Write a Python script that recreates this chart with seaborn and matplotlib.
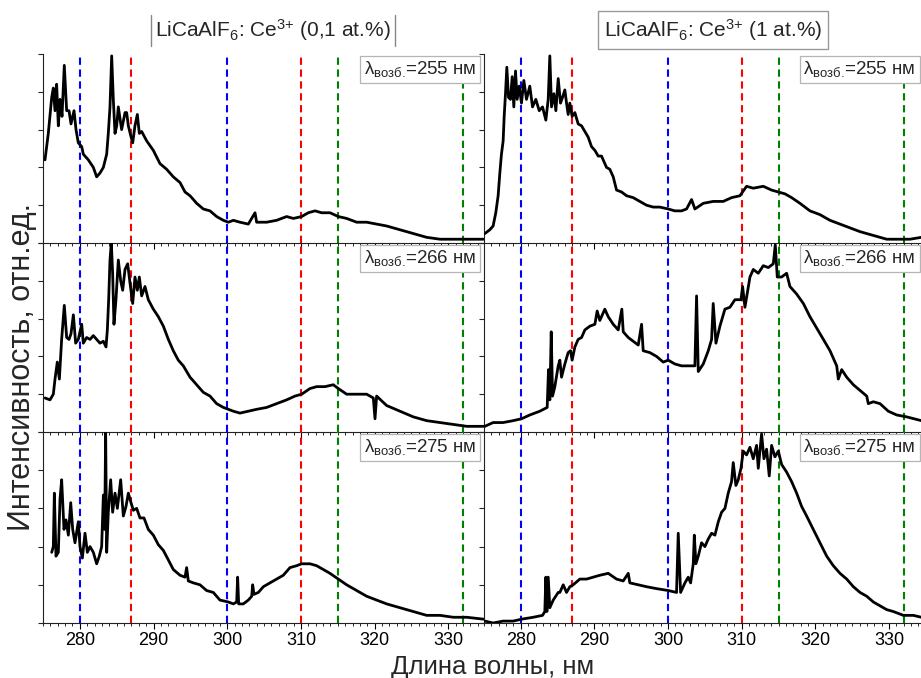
import matplotlib
matplotlib.use("Agg")
import matplotlib.pyplot as plt
from matplotlib.lines import Line2D
from matplotlib.ticker import MultipleLocator
import seaborn as sns

# ---------------- data ----------------
# Reference wavelengths (nm) of the dashed guide lines and their colours
guide_wl = [280, 287, 300, 310, 315, 332]
guide_colors = ["#0000ff", "#ff0000", "#0000ff", "#ff0000", "#008000", "#008000"]

excitation = [255, 266, 275]

# LiCaAlF6:Ce3+ (0.1 at.%), excitation 255 nm
wl_a255 = [275.27, 275.72, 276.18, 276.40, 276.63, 276.85, 277.08, 277.31, 277.58, 277.89,
           278.21, 278.53, 278.80, 279.21, 279.48, 279.79, 280.25, 280.47, 281.15, 281.83,
           282.28, 282.73, 283.19, 283.64, 283.86, 284.09, 284.32, 284.54, 284.77, 285.00,
           285.22, 285.67, 286.13, 286.35, 286.58, 286.89, 287.17, 287.48, 287.80, 288.07,
           288.39, 289.07, 289.97, 290.87, 291.78, 292.68, 293.59, 294.27, 294.95, 295.85,
           296.75, 297.66, 298.56, 299.47, 300.15, 300.83, 301.73, 302.86, 303.77, 303.99,
           305.35, 306.70, 308.06, 308.97, 310.10, 311.00, 311.91, 312.81, 313.94, 315.07,
           316.20, 317.56, 318.92, 320.27, 321.63, 323.44, 325.25, 327.06, 328.87, 330.68,
           332.50, 334.80]
int_a255 = [0.44, 0.58, 0.77, 0.82, 0.70, 0.84, 0.62, 0.76, 0.67, 0.94,
            0.70, 0.70, 0.63, 0.70, 0.60, 0.53, 0.51, 0.47, 0.44, 0.40,
            0.35, 0.37, 0.40, 0.47, 0.58, 0.72, 0.99, 0.76, 0.58, 0.62,
            0.72, 0.60, 0.69, 0.69, 0.62, 0.57, 0.53, 0.62, 0.68, 0.58,
            0.59, 0.54, 0.49, 0.42, 0.39, 0.35, 0.32, 0.27, 0.25, 0.21,
            0.18, 0.17, 0.14, 0.12, 0.11, 0.12, 0.11, 0.10, 0.16, 0.11,
            0.11, 0.12, 0.14, 0.13, 0.14, 0.16, 0.17, 0.16, 0.16, 0.14,
            0.13, 0.11, 0.11, 0.10, 0.09, 0.07, 0.05, 0.03, 0.02, 0.02,
            0.02, 0.02]

# LiCaAlF6:Ce3+ (0.1 at.%), excitation 266 nm
wl_a266 = [275.27, 275.95, 276.40, 276.63, 276.94, 277.22, 277.53, 277.89, 278.21, 278.53,
           278.80, 279.12, 279.43, 279.79, 280.25, 280.47, 280.92, 281.38, 281.83, 282.28,
           282.73, 283.19, 283.55, 283.73, 283.91, 284.09, 284.27, 284.45, 284.63, 284.90,
           285.22, 285.54, 285.81, 286.13, 286.49, 286.80, 287.17, 287.48, 287.80, 288.07,
           288.39, 288.84, 289.29, 289.97, 290.65, 291.33, 292.01, 292.68, 293.36, 294.04,
           294.95, 295.85, 296.75, 297.66, 298.56, 299.47, 300.15, 300.83, 301.73, 302.86,
           303.99, 305.35, 306.70, 308.06, 309.19, 310.10, 311.23, 312.13, 313.26, 314.39,
           315.07, 316.20, 317.56, 318.92, 319.82, 320.05, 320.27, 321.63, 323.44, 325.25,
           327.06, 328.87, 330.68, 332.50, 334.80]
int_a266 = [0.18, 0.17, 0.20, 0.28, 0.37, 0.28, 0.49, 0.67, 0.50, 0.49,
            0.52, 0.62, 0.47, 0.49, 0.57, 0.47, 0.50, 0.49, 0.51, 0.49,
            0.47, 0.48, 0.45, 0.54, 0.70, 0.91, 1.00, 0.84, 0.57, 0.70,
            0.91, 0.80, 0.75, 0.86, 0.89, 0.79, 0.68, 0.82, 0.75, 0.82,
            0.72, 0.77, 0.70, 0.65, 0.61, 0.56, 0.49, 0.43, 0.38, 0.35,
            0.29, 0.25, 0.21, 0.19, 0.15, 0.13, 0.12, 0.11, 0.10, 0.11,
            0.12, 0.13, 0.15, 0.17, 0.19, 0.20, 0.23, 0.24, 0.24, 0.25,
            0.23, 0.20, 0.20, 0.20, 0.18, 0.07, 0.19, 0.14, 0.11, 0.08,
            0.06, 0.05, 0.04, 0.03, 0.03]

# LiCaAlF6:Ce3+ (0.1 at.%), excitation 275 nm
wl_a275 = [276.18, 276.40, 276.54, 276.76, 277.08, 277.31, 277.53, 277.85, 278.12, 278.44,
           278.76, 279.03, 279.34, 279.79, 280.02, 280.34, 280.70, 281.02, 281.38, 281.83,
           282.28, 282.64, 282.96, 283.19, 283.37, 283.50, 283.64, 283.86, 284.18, 284.45,
           284.77, 285.09, 285.54, 285.90, 286.26, 286.58, 286.94, 287.26, 287.71, 288.16,
           288.70, 289.29, 289.97, 290.65, 291.33, 292.01, 292.68, 293.59, 294.27, 294.49,
           294.72, 295.40, 296.30, 297.20, 298.11, 299.01, 300.15, 300.83, 301.28, 301.41,
           301.55, 302.18, 302.86, 303.32, 303.45, 303.63, 304.22, 304.90, 305.80, 306.70,
           307.61, 308.51, 309.42, 310.10, 310.78, 311.23, 312.13, 313.04, 313.94, 315.07,
           316.20, 317.56, 318.92, 320.27, 321.63, 323.44, 325.25, 327.06, 328.87, 330.68,
           332.50, 334.80]
int_a275 = [0.37, 0.40, 0.68, 0.35, 0.37, 0.65, 0.75, 0.49, 0.54, 0.46,
            0.63, 0.49, 0.42, 0.53, 0.40, 0.34, 0.47, 0.37, 0.40, 0.37,
            0.31, 0.35, 0.40, 0.67, 0.49, 1.00, 0.37, 0.58, 0.75, 0.58,
            0.68, 0.60, 0.75, 0.56, 0.61, 0.68, 0.63, 0.59, 0.60, 0.55,
            0.55, 0.49, 0.46, 0.41, 0.38, 0.33, 0.28, 0.25, 0.24, 0.29,
            0.22, 0.21, 0.20, 0.17, 0.16, 0.12, 0.11, 0.10, 0.11, 0.24,
            0.10, 0.10, 0.12, 0.14, 0.20, 0.15, 0.16, 0.19, 0.21, 0.23,
            0.25, 0.29, 0.30, 0.31, 0.31, 0.31, 0.30, 0.28, 0.26, 0.23,
            0.20, 0.17, 0.14, 0.12, 0.10, 0.08, 0.06, 0.04, 0.04, 0.03,
            0.03, 0.02]

# LiCaAlF6:Ce3+ (1 at.%), excitation 255 nm
wl_b255 = [275.11, 275.79, 276.24, 276.60, 276.92, 277.15, 277.37, 277.60, 277.74, 277.92,
           278.10, 278.33, 278.60, 278.83, 279.05, 279.28, 279.50, 279.78, 280.09, 280.41,
           280.77, 281.22, 281.59, 282.04, 282.50, 282.95, 283.40, 283.72, 283.94, 284.17,
           284.49, 284.76, 285.08, 285.39, 285.66, 285.98, 286.21, 286.43, 286.66, 286.97,
           287.34, 287.79, 288.25, 288.70, 289.15, 289.60, 290.06, 290.51, 290.96, 291.64,
           292.09, 292.55, 293.00, 293.68, 294.36, 295.26, 296.17, 297.07, 297.98, 298.88,
           300.02, 300.92, 301.83, 302.51, 303.19, 303.64, 304.78, 306.13, 307.49, 308.62,
           309.76, 310.66, 311.57, 312.93, 314.06, 314.97, 315.88, 316.78, 317.91, 319.27,
           320.63, 321.99, 323.35, 324.71, 326.07, 327.88, 329.69, 331.50, 332.86, 334.40]
int_b255 = [0.05, 0.07, 0.09, 0.16, 0.25, 0.37, 0.47, 0.54, 0.67, 0.79,
            0.93, 0.77, 0.76, 0.88, 0.72, 0.91, 0.76, 0.83, 0.74, 0.86,
            0.76, 0.83, 0.72, 0.76, 0.70, 0.72, 0.65, 0.76, 0.99, 0.72,
            0.79, 0.70, 0.87, 0.74, 0.77, 0.81, 0.74, 0.68, 0.74, 0.67,
            0.69, 0.63, 0.62, 0.59, 0.56, 0.51, 0.49, 0.46, 0.46, 0.40,
            0.39, 0.35, 0.28, 0.27, 0.25, 0.24, 0.22, 0.20, 0.19, 0.19,
            0.18, 0.17, 0.17, 0.18, 0.23, 0.18, 0.21, 0.22, 0.22, 0.24,
            0.25, 0.30, 0.29, 0.30, 0.28, 0.27, 0.26, 0.24, 0.21, 0.17,
            0.15, 0.12, 0.10, 0.08, 0.06, 0.04, 0.02, 0.02, 0.02, 0.03]

# LiCaAlF6:Ce3+ (1 at.%), excitation 266 nm
wl_b266 = [275.11, 276.24, 277.60, 278.96, 280.09, 281.22, 282.58, 283.58, 283.76, 283.94,
           284.13, 284.31, 284.62, 285.08, 285.30, 285.53, 285.98, 286.43, 286.75, 286.97,
           287.34, 287.79, 288.25, 288.70, 289.38, 290.06, 290.37, 290.73, 291.41, 291.87,
           292.55, 293.23, 293.72, 293.91, 294.59, 295.27, 295.95, 296.40, 296.62, 297.53,
           298.43, 299.34, 300.02, 300.92, 301.83, 302.74, 303.64, 303.87, 304.10, 304.78,
           305.46, 305.91, 306.13, 306.50, 307.04, 307.72, 308.40, 309.08, 309.90, 310.12,
           310.44, 311.12, 311.57, 312.25, 312.93, 313.61, 314.29, 314.56, 314.83, 315.42,
           316.10, 316.55, 317.46, 318.37, 319.27, 320.18, 321.09, 321.99, 322.90, 323.12,
           323.58, 324.26, 325.16, 326.07, 326.98, 327.19, 327.88, 328.78, 329.91, 331.05,
           332.41, 334.40]
int_b266 = [0.03, 0.05, 0.05, 0.06, 0.07, 0.09, 0.11, 0.13, 0.33, 0.17,
            0.53, 0.19, 0.24, 0.35, 0.38, 0.29, 0.36, 0.42, 0.43, 0.38,
            0.45, 0.49, 0.50, 0.54, 0.56, 0.57, 0.64, 0.59, 0.65, 0.61,
            0.57, 0.54, 0.65, 0.53, 0.50, 0.48, 0.46, 0.57, 0.43, 0.42,
            0.40, 0.37, 0.38, 0.36, 0.35, 0.35, 0.35, 0.72, 0.32, 0.36,
            0.43, 0.49, 0.68, 0.47, 0.56, 0.65, 0.66, 0.70, 0.70, 0.77,
            0.66, 0.82, 0.86, 0.84, 0.88, 0.87, 0.89, 0.99, 0.82, 0.82,
            0.84, 0.77, 0.73, 0.68, 0.61, 0.55, 0.49, 0.43, 0.35, 0.28,
            0.33, 0.29, 0.25, 0.22, 0.19, 0.15, 0.16, 0.15, 0.11, 0.09,
            0.08, 0.06]

# LiCaAlF6:Ce3+ (1 at.%), excitation 275 nm
wl_b275 = [275.11, 276.24, 277.60, 278.96, 280.09, 281.68, 282.95, 283.26, 283.40, 283.54,
           283.72, 283.94, 284.40, 285.08, 285.30, 285.76, 286.21, 286.66, 287.11, 288.02,
           288.93, 289.83, 290.74, 291.87, 293.00, 293.91, 294.59, 294.81, 295.95, 297.07,
           298.43, 300.02, 301.15, 301.38, 301.70, 302.29, 302.74, 303.06, 303.42, 303.56,
           303.78, 304.10, 304.55, 305.00, 305.46, 305.91, 306.36, 306.82, 307.27, 307.72,
           308.17, 308.62, 308.85, 309.21, 309.53, 309.90, 310.21, 310.66, 311.12, 311.57,
           312.02, 312.25, 312.70, 313.02, 313.38, 313.74, 314.06, 314.51, 314.97, 315.42,
           316.10, 316.78, 317.46, 318.14, 318.82, 319.72, 320.63, 321.54, 322.44, 323.35,
           324.26, 325.16, 326.07, 326.98, 327.88, 328.78, 329.69, 330.60, 331.96, 333.31,
           334.40]
int_b275 = [0.01, 0.00, 0.01, 0.01, 0.02, 0.03, 0.04, 0.06, 0.24, 0.06,
            0.24, 0.08, 0.12, 0.16, 0.16, 0.20, 0.16, 0.19, 0.20, 0.23,
            0.23, 0.24, 0.25, 0.26, 0.23, 0.22, 0.26, 0.21, 0.20, 0.19,
            0.18, 0.17, 0.16, 0.47, 0.16, 0.21, 0.24, 0.21, 0.31, 0.46,
            0.31, 0.35, 0.42, 0.40, 0.44, 0.47, 0.46, 0.53, 0.58, 0.60,
            0.68, 0.74, 0.84, 0.72, 0.75, 0.81, 0.90, 0.88, 0.92, 0.86,
            0.93, 0.81, 0.99, 0.86, 0.91, 0.77, 0.93, 0.87, 0.90, 0.83,
            0.79, 0.74, 0.68, 0.61, 0.56, 0.49, 0.42, 0.35, 0.30, 0.26,
            0.23, 0.19, 0.16, 0.14, 0.11, 0.09, 0.07, 0.06, 0.04, 0.04,
            0.03]

column_titles = ["LiCaAlF$\\mathregular{_6}$: Ce$\\mathregular{^{3{+}}}$ (0,1 at.%)",
                 "LiCaAlF$\\mathregular{_6}$: Ce$\\mathregular{^{3{+}}}$ (1 at.%)"]
xlabel = "Длина волны, нм"
ylabel = "Интенсивность, отн.ед."

spectra = [
    [(wl_a255, int_a255), (wl_a266, int_a266), (wl_a275, int_a275)],
    [(wl_b255, int_b255), (wl_b266, int_b266), (wl_b275, int_b275)],
]

# ---------------- style ----------------
sns.set_theme(style="ticks")
plt.rcParams["font.family"] = ["Liberation Sans", "DejaVu Sans"]
plt.rcParams["mathtext.fontset"] = "custom"
plt.rcParams["mathtext.rm"] = "Liberation Sans"
plt.rcParams["mathtext.it"] = "Liberation Sans:italic"
plt.rcParams["mathtext.bf"] = "Liberation Sans:bold"

W, H = 921, 678
fig = plt.figure(figsize=(W / 100, H / 100), dpi=100)
fig.patch.set_facecolor("white")

col_left = [43, 484]
col_width = [441, 437]
col_xmax = [334.84, 334.35]
row_top = [54, 243, 432]
row_bottom = [243, 432, 623]

for c in range(2):
    for r in range(3):
        ax = fig.add_axes([col_left[c] / W, 1 - row_bottom[r] / H,
                           col_width[c] / W, (row_bottom[r] - row_top[r]) / H])
        ax.set_facecolor("none")
        wl, inten = spectra[c][r]
        for g, gc in zip(guide_wl, guide_colors):
            ax.axvline(g, color=gc, lw=1.5, ls=(0, (3.5, 2.2)), zorder=1)
        sns.lineplot(x=wl, y=inten, ax=ax, color="black", linewidth=2.0,
                     estimator=None, sort=False, zorder=3)
        ax.set_xlim(275, col_xmax[c])
        ax.set_ylim(0, 1.0)
        ax.set_xlabel("")
        ax.set_ylabel("")
        ax.xaxis.set_major_locator(MultipleLocator(10))
        ax.xaxis.set_minor_locator(MultipleLocator(1))
        ax.yaxis.set_major_locator(MultipleLocator(0.2))
        ax.tick_params(axis="x", which="major", direction="out", length=4.5, width=0.8,
                       labelsize=13, pad=2, colors="black",
                       labelbottom=(r == 2))
        ax.tick_params(axis="x", which="minor", direction="out", length=2.5, width=0.7)
        ax.tick_params(axis="y", which="major", direction="out", length=3.5, width=0.8,
                       labelleft=False)
        for s in ["top", "right"]:
            ax.spines[s].set_visible(False)
        for s in ["left", "bottom"]:
            ax.spines[s].set_color("#222222")
            ax.spines[s].set_linewidth(0.8)
        tx = 0.727 if c == 0 else 0.731
        ax.text(tx, 0.972, "$\\mathregular{\\lambda_{возб.}\\!}$=%d нм" % excitation[r],
                transform=ax.transAxes, ha="left", va="top", fontsize=13.5,
                clip_on=True, zorder=5,
                bbox=dict(boxstyle="square,pad=0.2", fc="white", ec="#b5b5b5", lw=0.9))

# column titles
fig.text(273 / W, 1 - 30 / H, column_titles[0], ha="center", va="center", fontsize=15)
for xp in (151, 395):
    fig.add_artist(Line2D([xp / W, xp / W], [1 - 15 / H, 1 - 46 / H],
                          color="#888888", lw=1.0))
fig.text(713 / W, 1 - 30 / H, column_titles[1], ha="center", va="center", fontsize=15,
         bbox=dict(boxstyle="square,pad=0.3", fc="white", ec="#999999", lw=1.0))

fig.text(493 / W, 1 - 674 / H, xlabel, ha="center", va="baseline", fontsize=18.5)
fig.text(22 / W, 1 - 367 / H, ylabel, ha="center", va="center", rotation=90, fontsize=22)

fig.savefig("out.png", dpi=100, facecolor="white")
